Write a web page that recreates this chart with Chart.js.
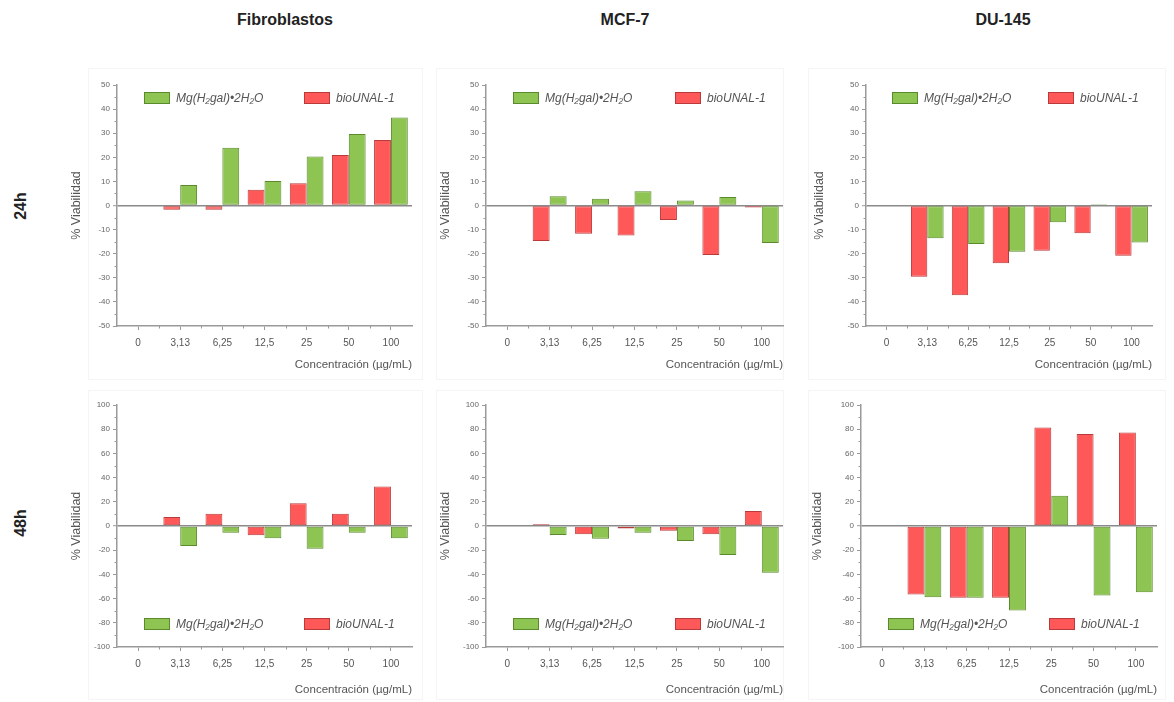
<!DOCTYPE html>
<html lang="es">
<head>
<meta charset="utf-8">
<title>% Viabilidad celular</title>
<script src="https://cdn.jsdelivr.net/npm/chart.js"></script>
<style>
  html, body { margin: 0; padding: 0; background: #fff; }
  body { width: 1174px; height: 702px; position: relative; overflow: hidden;
         font-family: "Liberation Sans", Arial, sans-serif; }
  .col-title { position: absolute; top: 11px; font-weight: bold; font-size: 16px; color: #222;
               transform: translateX(-50%); white-space: nowrap; line-height: 18px; }
  .row-title { position: absolute; font-weight: bold; font-size: 16px; color: #222; line-height: 18px;
               transform: translate(-50%, -50%) rotate(-90deg); white-space: nowrap; }
  .frame { position: absolute; border: 1px solid #f5f5f5; box-sizing: border-box; }
  canvas { position: absolute; }
</style>
</head>
<body>
<div id="frames"></div>
<div class="col-title" style="left:285px">Fibroblastos</div>
<div class="col-title" style="left:625px">MCF-7</div>
<div class="col-title" style="left:1003px">DU-145</div>
<div class="row-title" style="left:21px; top:206px">24h</div>
<div class="row-title" style="left:21px; top:523px">48h</div>

<script>
// Concentraciones ensayadas (µg/mL) y etiquetas de series
const concentraciones = ['0', '3,13', '6,25', '12,5', '25', '50', '100'];
const serieMg = 'Mg(H₂gal)•2H₂O';
const serieBio = 'bioUNAL-1';
const tituloY = '% Viabilidad';
const tituloX = 'Concentración (µg/mL)';

// 24 h
const fibro24Bio = [0, -1.8, -1.8, 6.5, 9.2, 21.0, 27.2];
const fibro24Mg  = [0, 8.5, 24.0, 10.2, 20.3, 29.7, 36.5];
const mcf24Bio   = [0, -14.7, -11.7, -12.4, -6.0, -20.5, -0.8];
const mcf24Mg    = [0, 3.8, 2.8, 5.9, 2.1, 3.5, -15.6];
const du24Bio    = [0, -29.6, -37.2, -24.0, -18.8, -11.5, -20.8];
const du24Mg     = [0, -13.6, -16.0, -19.2, -6.9, 0.5, -15.4];

// 48 h
const fibro48Bio = [0, 7.5, 10.2, -7.7, 18.8, 10.2, 32.6];
const fibro48Mg  = [0, -16.6, -5.5, -10.2, -18.8, -5.5, -10.2];
const mcf48Bio   = [0, 1.5, -6.9, -2.0, -4.0, -6.9, 12.4];
const mcf48Mg    = [0, -7.4, -10.5, -5.5, -12.4, -24.0, -38.6];
const du48Bio    = [0, -56.6, -59.4, -59.4, 81.5, 76.0, 77.3];
const du48Mg     = [0, -58.8, -59.4, -69.9, 24.9, -57.5, -54.7];

// Rango del eje Y por fila
const ejeY24 = { min: -50, max: 50, step: 10 };
const ejeY48 = { min: -100, max: 100, step: 20 };

const colores = {
  bio: { fill: '#ff5858', borde: '#b83a3a' },
  mg:  { fill: '#8ec451', borde: '#5a8a2c' }
};

// Geometría de cada panel (canvas y márgenes internos)
const paneles = [
  { bio: fibro24Bio, mg: fibro24Mg, eje: ejeY24, leyenda: 'arriba',
    left: 60,  top: 60,  w: 365, h: 313, padL: 6,  padR: 13, padT: 25, yW: 51,   xH: 47,
    frame: [88, 68, 335, 312] },
  { bio: mcf24Bio, mg: mcf24Mg, eje: ejeY24, leyenda: 'arriba',
    left: 425, top: 60,  w: 365, h: 313, padL: 10, padR: 7,  padT: 25, yW: 51,   xH: 47,
    frame: [436, 68, 348, 312] },
  { bio: du24Bio, mg: du24Mg, eje: ejeY24, leyenda: 'arriba',
    left: 795, top: 60,  w: 375, h: 313, padL: 14, padR: 18, padT: 25, yW: 57,   xH: 47,
    frame: [808, 68, 358, 312] },
  { bio: fibro48Bio, mg: fibro48Mg, eje: ejeY48, leyenda: 'abajo',
    left: 60,  top: 385, w: 365, h: 313, padL: 6,  padR: 13, padT: 20, yW: 51,   xH: 51,
    frame: [88, 390, 335, 310] },
  { bio: mcf48Bio, mg: mcf48Mg, eje: ejeY48, leyenda: 'abajo',
    left: 425, top: 385, w: 365, h: 313, padL: 10, padR: 7,  padT: 20, yW: 51,   xH: 51,
    frame: [436, 390, 348, 310] },
  { bio: du48Bio, mg: du48Mg, eje: ejeY48, leyenda: 'abajo',
    left: 795, top: 385, w: 375, h: 313, padL: 12, padR: 13, padT: 20, yW: 54,   xH: 51,
    frame: [808, 390, 358, 310] }
];

// Leyenda dibujada dentro del área de trazado (Mg primero, luego bioUNAL-1)
const leyendaInterna = {
  id: 'leyendaInterna',
  afterDraw(chart, args, opts) {
    const { ctx, chartArea: a } = chart;
    const w = a.right - a.left;
    const boxW = 26, boxH = 12;
    const y = opts.lugar === 'arriba' ? a.top + 7 : a.bottom - 17 - boxH;
    const posiciones = [0.09, 0.635];
    const orden = [1, 0];
    ctx.save();
    ctx.font = 'italic 12px "Liberation Sans", Arial, sans-serif';
    ctx.textBaseline = 'middle';
    ctx.textAlign = 'left';
    orden.forEach((di, k) => {
      const ds = chart.data.datasets[di];
      const x = Math.round(a.left + w * posiciones[k]);
      ctx.fillStyle = ds.backgroundColor;
      ctx.fillRect(x, y, boxW, boxH);
      ctx.strokeStyle = ds.borderColor;
      ctx.lineWidth = 1;
      ctx.strokeRect(x + 0.5, y + 0.5, boxW - 1, boxH - 1);
      ctx.fillStyle = '#555';
      ctx.fillText(ds.label, x + boxW + 6, y + boxH / 2 + 0.5);
    });
    ctx.restore();
  }
};

// Marcas menores en ambos ejes
const marcasMenores = {
  id: 'marcasMenores',
  afterDraw(chart) {
    const { ctx } = chart;
    const ys = chart.scales.y, xs = chart.scales.x;
    ctx.save();
    ctx.strokeStyle = '#9a9a9a';
    ctx.lineWidth = 1;
    ctx.beginPath();
    for (let i = 0; i < ys.ticks.length - 1; i++) {
      const v = (ys.ticks[i].value + ys.ticks[i + 1].value) / 2;
      const py = Math.round(ys.getPixelForValue(v)) + 0.5;
      ctx.moveTo(ys.right - 2.5, py);
      ctx.lineTo(ys.right, py);
    }
    const yb = xs.top;
    for (let i = 0; i < concentraciones.length - 1; i++) {
      const px = Math.round(xs.getPixelForValue(i + 0.5)) + 0.5;
      ctx.moveTo(px, yb);
      ctx.lineTo(px, yb + 2.5);
    }
    ctx.stroke();
    ctx.restore();
  }
};

const fuente = '"Liberation Sans", Arial, sans-serif';
const framesDiv = document.getElementById('frames');

paneles.forEach((p) => {
  const f = document.createElement('div');
  f.className = 'frame';
  f.style.left = p.frame[0] + 'px';
  f.style.top = p.frame[1] + 'px';
  f.style.width = p.frame[2] + 'px';
  f.style.height = p.frame[3] + 'px';
  framesDiv.appendChild(f);

  const canvas = document.createElement('canvas');
  canvas.width = p.w;
  canvas.height = p.h;
  canvas.style.left = p.left + 'px';
  canvas.style.top = p.top + 'px';
  canvas.style.width = p.w + 'px';
  canvas.style.height = p.h + 'px';
  document.body.appendChild(canvas);

  new Chart(canvas, {
    type: 'bar',
    data: {
      labels: concentraciones,
      datasets: [
        { label: serieBio, data: p.bio, backgroundColor: colores.bio.fill,
          borderColor: colores.bio.borde, borderWidth: 1, borderSkipped: false },
        { label: serieMg, data: p.mg, backgroundColor: colores.mg.fill,
          borderColor: colores.mg.borde, borderWidth: 1, borderSkipped: false }
      ]
    },
    options: {
      responsive: false,
      animation: false,
      devicePixelRatio: 1,
      categoryPercentage: 0.8,
      barPercentage: 1.0,
      layout: { padding: { left: p.padL, right: p.padR, top: p.padT, bottom: 0 } },
      plugins: {
        legend: { display: false },
        tooltip: { enabled: false },
        leyendaInterna: { lugar: p.leyenda }
      },
      scales: {
        x: {
          offset: true,
          grid: { display: true, drawOnChartArea: false, offset: false,
                  tickLength: 4, tickColor: '#9a9a9a', tickWidth: 1 },
          border: { display: true, color: '#9a9a9a', width: 1.5 },
          ticks: { color: '#555', font: { family: fuente, size: 10 }, padding: 7,
                   maxRotation: 0, autoSkip: false },
          title: { display: true, text: tituloX, align: 'end', color: '#555',
                   font: { family: fuente, size: 11.5 }, padding: { top: 0, bottom: 1 } },
          afterFit: (s) => { s.height = p.xH; }
        },
        y: {
          min: p.eje.min,
          max: p.eje.max,
          ticks: { stepSize: p.eje.step, color: '#666', font: { family: fuente, size: 8 }, padding: 3 },
          grid: {
            drawOnChartArea: true,
            color: (c) => (c.tick && c.tick.value === 0 ? '#8a8a8a' : 'rgba(0,0,0,0)'),
            lineWidth: (c) => (c.tick && c.tick.value === 0 ? 1.4 : 1),
            tickColor: '#9a9a9a', tickWidth: 1, tickLength: 4
          },
          border: { display: true, color: '#9a9a9a', width: 1.5 },
          title: { display: true, text: tituloY, color: '#555',
                   font: { family: fuente, size: 12.5 }, padding: { top: 3, bottom: 0 } },
          afterFit: (s) => { s.width = p.yW; }
        }
      }
    },
    plugins: [marcasMenores, leyendaInterna]
  });
});
</script>
</body>
</html>
